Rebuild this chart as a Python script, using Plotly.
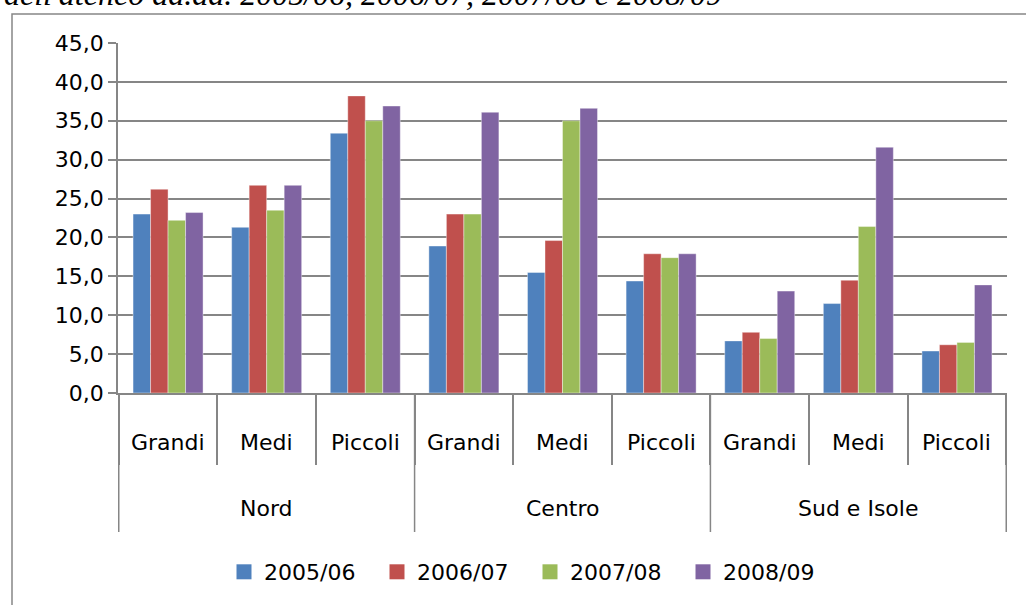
import plotly.graph_objects as go

groups = ["Nord", "Centro", "Sud e Isole"]
sizes = ["Grandi", "Medi", "Piccoli"]
years = ["2005/06", "2006/07", "2007/08", "2008/09"]

# values per year, order: Nord G/M/P, Centro G/M/P, Sud e Isole G/M/P
v_2005 = [23.0, 21.3, 33.4, 18.9, 15.5, 14.4, 6.7, 11.5, 5.4]
v_2006 = [26.2, 26.7, 38.2, 23.0, 19.6, 17.9, 7.8, 14.5, 6.2]
v_2007 = [22.2, 23.5, 35.0, 23.0, 35.0, 17.4, 7.0, 21.4, 6.5]
v_2008 = [23.2, 26.7, 36.9, 36.1, 36.6, 17.9, 13.1, 31.6, 13.9]
series = [v_2005, v_2006, v_2007, v_2008]
colors = ["#4F81BD", "#C0504D", "#9BBB59", "#8064A2"]

title_text = "dell'ateneo aa.aa. 2005/06, 2006/07, 2007/08 e 2008/09"

keys = [f"{g} | {s}" for g in groups for s in sizes]
GRAY = "#868686"
FONT = "DejaVu Sans"

W, H = 1026, 605
L, R, T, B = 118, 19, 43, 212
plot_w = W - L - R
plot_h = H - T - B

fig = go.Figure()
for name, vals, col in zip(years, series, colors):
    fig.add_trace(go.Bar(
        x=keys, y=vals, name=name, showlegend=False,
        marker=dict(color=col, line=dict(color="rgba(255,255,255,0.5)", width=0.8)),
    ))
# legend entries with larger square keys
for name, col in zip(years, colors):
    fig.add_trace(go.Scatter(
        x=[None], y=[None], name=name, mode="markers",
        marker=dict(symbol="square", size=15, color=col),
    ))

# sub-category and group labels under the axis
annotations = []
for k in keys:
    annotations.append(dict(
        x=k, xref="x", y=0, yref="paper", yshift=-49, yanchor="middle",
        text=k.split(" | ")[1], showarrow=False,
        font=dict(family=FONT, size=22, color="black"),
    ))
for g in groups:
    annotations.append(dict(
        x=f"{g} | {sizes[1]}", xref="x", y=0, yref="paper", yshift=-115,
        yanchor="middle", text=g, showarrow=False,
        font=dict(family=FONT, size=22, color="black"),
    ))
# cut-off caption above the chart
annotations.append(dict(
    x=-L / plot_w + 2 / plot_w, xref="paper", xanchor="left",
    y=1 + (T - 14) / plot_h, yref="paper", yanchor="bottom",
    text=f"<i>{title_text}</i>", showarrow=False,
    font=dict(family="Liberation Serif", size=32, color="black"),
))

shapes = []
# group dividers
for i in range(len(groups) + 1):
    shapes.append(dict(
        type="line", xref="x", x0=i * len(sizes) - 0.5, x1=i * len(sizes) - 0.5,
        yref="paper", ysizemode="pixel", yanchor=0, y0=0, y1=-139,
        line=dict(color=GRAY, width=1.5),
    ))
# chart area border
shapes.append(dict(
    type="rect", xref="paper", xsizemode="pixel", xanchor=0, x0=12 - L, x1=W + 50,
    yref="paper", ysizemode="pixel", yanchor=1, y0=T - 14, y1=-H,
    line=dict(color=GRAY, width=1.5), fillcolor="rgba(0,0,0,0)", layer="below",
))

fig.update_layout(
    width=W, height=H,
    margin=dict(l=L, r=R, t=T, b=B, autoexpand=False),
    paper_bgcolor="white", plot_bgcolor="white",
    barmode="group", bargap=0.29, bargroupgap=0,
    separators=",.",
    font=dict(family=FONT, size=22, color="black"),
    showlegend=True,
    legend=dict(
        orientation="h", x=(224 - L) / plot_w, xanchor="left",
        y=(0 - (572 - (T + plot_h))) / plot_h, yanchor="middle",
        font=dict(family=FONT, size=22),
        entrywidth=108, entrywidthmode="pixels",
        itemsizing="trace", traceorder="normal",
    ),
    annotations=annotations,
    shapes=shapes,
    xaxis=dict(
        type="category", showticklabels=False,
        ticks="outside", tickson="boundaries", ticklen=70,
        tickcolor=GRAY, tickwidth=1.5,
        showline=True, linecolor=GRAY, linewidth=1.5,
        showgrid=False, zeroline=False, fixedrange=True,
    ),
    yaxis=dict(
        range=[0, 45], dtick=5, tickformat=".1f",
        ticks="outside", ticklen=8, tickcolor=GRAY, tickwidth=1.5,
        showline=True, linecolor=GRAY, linewidth=1.5,
        showgrid=True, gridcolor=GRAY, gridwidth=1.5,
        zeroline=False, tickfont=dict(family=FONT, size=22),
        fixedrange=True,
    ),
)

fig.write_html("out.html", config={"displayModeBar": False},
               post_script="document.body.style.margin='0px';")
